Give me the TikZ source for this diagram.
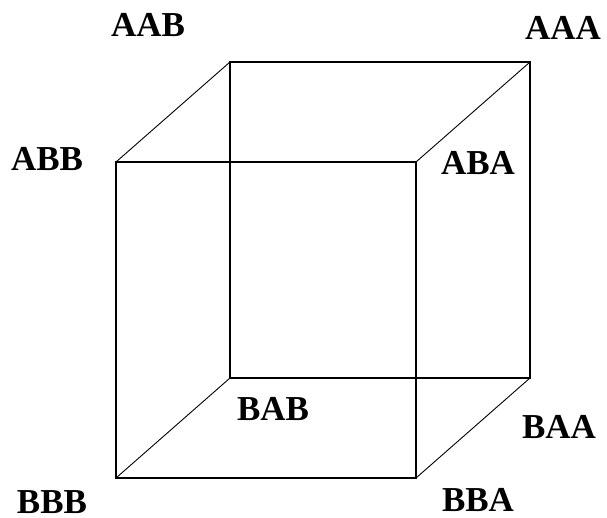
\documentclass[tikz,border=0pt]{standalone}
\usepackage{fontspec}
\newfontfamily\cornerfont{Liberation Serif}
\usetikzlibrary{positioning}

\tikzset{
  vlabel/.style={anchor=base,inner sep=0pt,text depth=0pt,font=\cornerfont\bfseries\fontsize{35}{36}\selectfont},
  edge/.style={line width=1.6pt},
  slant/.style={line width=0.9pt}
}

\begin{document}
\begin{tikzpicture}[x=1pt,y=-1pt]
  \useasboundingbox (0,0) rectangle (607,518);
  % corners of the cube
  \coordinate (abb) at (116,162);
  \coordinate (aba) at (416,162);
  \coordinate (bbb) at (116,478);
  \coordinate (bba) at (416,478);
  \coordinate (aab) at (230,62);
  \coordinate (aaa) at (530,62);
  \coordinate (bab) at (230,378);
  \coordinate (baa) at (530,378);
  % faces
  \draw[edge] (aab) -- (aaa) -- (baa) -- (bab) -- cycle;
  \draw[edge] (abb) -- (aba) -- (bba) -- (bbb) -- cycle;
  \draw[slant] (abb) -- (aab);
  \draw[slant] (aba) -- (aaa);
  \draw[slant] (bbb) -- (bab);
  \draw[slant] (bba) -- (baa);
  % labels
  \node[vlabel] (lAAB) at (148,37) {AAB};
  \node[vlabel] (lAAA) at (563,40) {AAA};
  \node[vlabel] (lABB) at (47,171) {ABB};
  \node[vlabel] (lABA) at (478,175) {ABA};
  \node[vlabel] (lBAB) at (273,420) {BAB};
  \node[vlabel] (lBAA) at (559,438) {BAA};
  \node[vlabel] (lBBB) at (52,513) {BBB};
  \node[vlabel] (lBBA) at (478,511) {BBA};
\end{tikzpicture}
\end{document}
